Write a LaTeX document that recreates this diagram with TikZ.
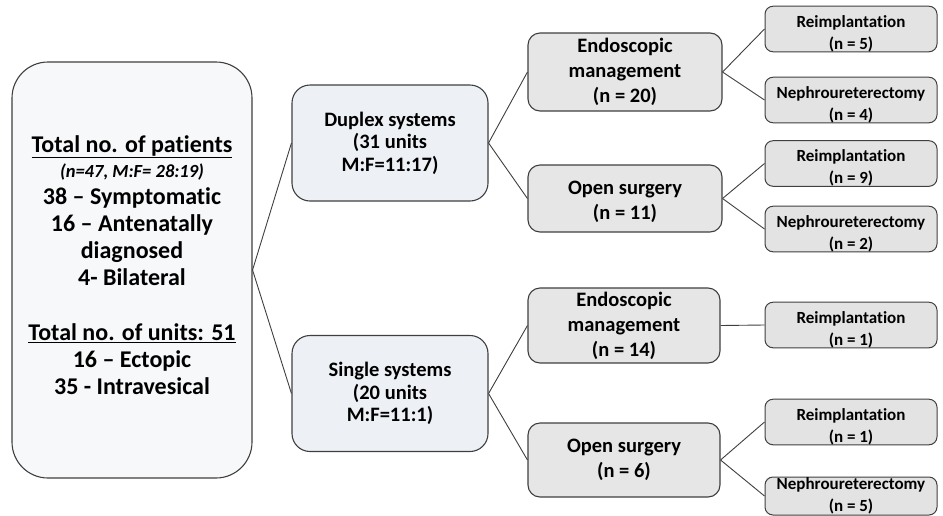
\documentclass[tikz,border=0pt]{standalone}
\usepackage{fontspec}
\setmainfont{Carlito}[Ligatures={TeX,CommonOff}]
\definecolor{boxline}{HTML}{3F3F3F}
\definecolor{rootfill}{HTML}{F7F8FA}
\definecolor{sysfill}{HTML}{EDF1F5}
\definecolor{mgmtfill}{HTML}{E6E6E6}
\definecolor{leaffill}{HTML}{E3E3E3}
% invisible struts to nudge text up or down inside a box
\newcommand{\lowstrut}{\rule[-10pt]{0pt}{10pt}}
\newcommand{\highstrut}{\rule{0pt}{21pt}}

\begin{document}
\begin{tikzpicture}[
    x=1pt, y=-1pt,
    rootbox/.style={rectangle, draw=boxline, fill=rootfill, line width=1.1pt, rounded corners=36pt,
                    minimum width=240pt, minimum height=416pt, align=center, inner sep=0pt,
                    font=\fontsize{24}{27}\selectfont\bfseries},
    sysbox/.style={rectangle, draw=boxline, fill=sysfill, line width=1.1pt, rounded corners=18pt,
                   minimum width=196pt, minimum height=116pt, align=center, inner sep=0pt,
                   font=\fontsize{20.5}{22.5}\selectfont\bfseries},
    mgmtbox/.style={rectangle, draw=boxline, fill=mgmtfill, line width=1.1pt, rounded corners=12pt,
                    minimum width=194pt, align=center, inner sep=0pt,
                    font=\fontsize{20.5}{25}\selectfont\bfseries},
    leafbox/.style={rectangle, draw=boxline, fill=leaffill, line width=1pt, rounded corners=8pt,
                    minimum width=172pt, minimum height=38pt, align=center, inner sep=0pt,
                    font=\fontsize{17}{22}\selectfont\bfseries},
    link/.style={draw=boxline, line width=0.9pt}
]
\useasboundingbox (0,0) rectangle (943,515);

% Patients
\node[rootbox] (root) at (132,270) {\underline{Total no. of patients}\\[-2pt]
    {\fontsize{18.5}{21}\selectfont\itshape (n=47, M:F= 28:19)}\\
    38 -- Symptomatic\\
    16 -- Antenatally\\
    diagnosed\\
    4- Bilateral\\[28pt]
    \underline{Total no. of units: 51}\\
    16 -- Ectopic\\
    35 - Intravesical\lowstrut};

% Systems
\node[sysbox] (duplex) at (390,143) {Duplex systems\\(31 units\\M:F=11:17)};
\node[sysbox] (single) at (390,393.5) {Single systems\\(20 units\\M:F=11:1)};

% Management
\node[mgmtbox, minimum height=78pt] (endoA) at (625,72) {Endoscopic\\management\\(n = 20)};
\node[mgmtbox, minimum height=67pt] (openA) at (625,198.5) {\rule{0pt}{20pt}Open surgery\\(n = 11)};
\node[mgmtbox, minimum width=192pt, minimum height=75pt] (endoB) at (624,325.5) {Endoscopic\\management\\(n = 14)};
\node[mgmtbox, minimum width=192pt, minimum height=74pt] (openB) at (624,460) {Open surgery\\(n = 6)};

% Procedures
\node[leafbox] (reimpA) at (851,29) {\highstrut Reimplantation\\(n = 5)};
\node[leafbox] (nephA) at (851,100) {\highstrut Nephroureterectomy\\(n = 4)};
\node[leafbox] (reimpB) at (851,163.5) {\highstrut Reimplantation\\(n = 9)};
\node[leafbox] (nephB) at (851,229) {\highstrut Nephroureterectomy\\(n = 2)};
\node[leafbox] (reimpC) at (851,325) {\highstrut Reimplantation\\(n = 1)};
\node[leafbox] (reimpD) at (851,422) {\highstrut Reimplantation\\(n = 1)};
\node[leafbox] (nephD) at (851,496) {Nephroureterectomy\\(n = 5)};

% Links
\draw[link] (root.east) -- (duplex.west);
\draw[link] (root.east) -- (single.west);
\draw[link] (duplex.east) -- (endoA.west);
\draw[link] (duplex.east) -- (openA.west);
\draw[link] (single.east) -- (endoB.west);
\draw[link] (single.east) -- (openB.west);
\draw[link] (endoA.east) -- (reimpA.west);
\draw[link] (endoA.east) -- (nephA.west);
\draw[link] (openA.east) -- (reimpB.west);
\draw[link] (openA.east) -- (nephB.west);
\draw[link] (endoB.east) -- (reimpC.west);
\draw[link] (openB.east) -- (reimpD.west);
\draw[link] (openB.east) -- (nephD.west);

\end{tikzpicture}
\end{document}
